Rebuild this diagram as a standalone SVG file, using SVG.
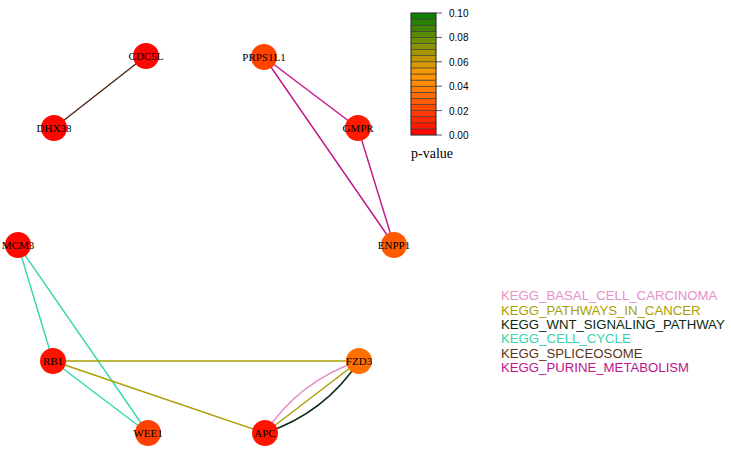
<svg xmlns="http://www.w3.org/2000/svg" width="731" height="449" viewBox="0 0 731 449">
<style>
.e{fill:none;stroke-width:1.4}
.n circle{stroke:none}
.n text{font-family:"Liberation Serif","Times New Roman",serif;font-size:11px;text-anchor:middle;fill:#000}
.band{stroke:#3a3a3a;stroke-width:0.6}
.tick{font-family:"Liberation Sans",Arial,sans-serif;font-size:10px;fill:#000}
.lg{font-family:"Liberation Sans",Arial,sans-serif;font-size:13.2px}
</style>
<rect width="731" height="449" fill="#fff"/>
<g id="connectors">
<line class="e" x1="146" y1="56" x2="54" y2="128" stroke="#4a2410"/>
<line class="e" x1="264" y1="57" x2="358" y2="128" stroke="#C0148C"/>
<line class="e" x1="264" y1="57" x2="394" y2="245" stroke="#C0148C"/>
<line class="e" x1="358" y1="128" x2="394" y2="245" stroke="#C0148C"/>
<line class="e" x1="18" y1="245" x2="53" y2="361" stroke="#33D6B0"/>
<line class="e" x1="18" y1="245" x2="148" y2="433" stroke="#33D6B0"/>
<line class="e" x1="53" y1="361" x2="148" y2="433" stroke="#33D6B0"/>
<line class="e" x1="53" y1="361" x2="359" y2="361" stroke="#A89F00"/>
<line class="e" x1="53" y1="361" x2="265" y2="433" stroke="#A89F00"/>
<path class="e" d="M265,433 Q299,381 359,361" stroke="#E68FC8"/>
<line class="e" x1="265" y1="433" x2="359" y2="361" stroke="#A89F00"/>
<path class="e" d="M265,433 Q325,413 359,361" stroke="#0A2A10"/>
</g>
<g id="node-CDC5L" class="n"><circle cx="146" cy="56" r="13" fill="#FF0400"/><text x="146" y="60">CDC5L</text></g>
<g id="node-DHX38" class="n"><circle cx="54" cy="128" r="13" fill="#FF0600"/><text x="54" y="132">DHX38</text></g>
<g id="node-PRPS1L1" class="n"><circle cx="264" cy="57" r="13" fill="#FF4400"/><text x="264" y="61">PRPS1L1</text></g>
<g id="node-GMPR" class="n"><circle cx="358" cy="128" r="13" fill="#FF1C00"/><text x="358" y="132">GMPR</text></g>
<g id="node-ENPP1" class="n"><circle cx="394" cy="245" r="13" fill="#FF5A00"/><text x="394" y="249">ENPP1</text></g>
<g id="node-MCM3" class="n"><circle cx="18" cy="245" r="13" fill="#FF0800"/><text x="18" y="249">MCM3</text></g>
<g id="node-RB1" class="n"><circle cx="53" cy="361" r="13" fill="#FF1200"/><text x="53" y="365">RB1</text></g>
<g id="node-WEE1" class="n"><circle cx="148" cy="433" r="13" fill="#FF4000"/><text x="148" y="437">WEE1</text></g>
<g id="node-APC" class="n"><circle cx="265" cy="433" r="13" fill="#FF1400"/><text x="265" y="437">APC</text></g>
<g id="node-FZD3" class="n"><circle cx="359" cy="361" r="13" fill="#FF7000"/><text x="359" y="365">FZD3</text></g>
<g id="colorbar">
<rect class="band" x="411" y="128.9" width="25" height="6.1" fill="#FF0800"/>
<rect class="band" x="411" y="122.8" width="25" height="6.1" fill="#FF1900"/>
<rect class="band" x="411" y="116.7" width="25" height="6.1" fill="#FF2900"/>
<rect class="band" x="411" y="110.6" width="25" height="6.1" fill="#FF3A00"/>
<rect class="band" x="411" y="104.5" width="25" height="6.1" fill="#FF4A00"/>
<rect class="band" x="411" y="98.4" width="25" height="6.1" fill="#FF5B00"/>
<rect class="band" x="411" y="92.3" width="25" height="6.1" fill="#FF6B00"/>
<rect class="band" x="411" y="86.2" width="25" height="6.1" fill="#FF7C00"/>
<rect class="band" x="411" y="80.1" width="25" height="6.1" fill="#FF8C00"/>
<rect class="band" x="411" y="74" width="25" height="6.1" fill="#FF9600"/>
<rect class="band" x="411" y="67.9" width="25" height="6.1" fill="#F29A00"/>
<rect class="band" x="411" y="61.8" width="25" height="6.1" fill="#D99A00"/>
<rect class="band" x="411" y="55.7" width="25" height="6.1" fill="#BF9800"/>
<rect class="band" x="411" y="49.6" width="25" height="6.1" fill="#A69600"/>
<rect class="band" x="411" y="43.5" width="25" height="6.1" fill="#8C9400"/>
<rect class="band" x="411" y="37.4" width="25" height="6.1" fill="#739000"/>
<rect class="band" x="411" y="31.3" width="25" height="6.1" fill="#598A00"/>
<rect class="band" x="411" y="25.2" width="25" height="6.1" fill="#408600"/>
<rect class="band" x="411" y="19.1" width="25" height="6.1" fill="#268200"/>
<rect class="band" x="411" y="13" width="25" height="6.1" fill="#0D8000"/>
<rect x="411" y="13" width="25" height="122" fill="none" stroke="#333" stroke-width="0.8"/>
<g stroke="#333" stroke-width="0.8">
<line x1="436" y1="13" x2="442" y2="13"/>
<line x1="436" y1="37.4" x2="442" y2="37.4"/>
<line x1="436" y1="61.8" x2="442" y2="61.8"/>
<line x1="436" y1="86.2" x2="442" y2="86.2"/>
<line x1="436" y1="110.6" x2="442" y2="110.6"/>
<line x1="436" y1="135" x2="442" y2="135"/>
</g>
<text class="tick" x="449" y="17">0.10</text>
<text class="tick" x="449" y="41.4">0.08</text>
<text class="tick" x="449" y="65.8">0.06</text>
<text class="tick" x="449" y="90.2">0.04</text>
<text class="tick" x="449" y="114.6">0.02</text>
<text class="tick" x="449" y="139">0.00</text>
<text x="411" y="158" font-family="Liberation Serif,Times New Roman,serif" font-size="14px" fill="#000">p-value</text>
</g>
<g id="legend">
<text class="lg" x="501" y="300" fill="#E68FC8">KEGG_BASAL_CELL_CARCINOMA</text>
<text class="lg" x="501" y="314.5" fill="#A89F00">KEGG_PATHWAYS_IN_CANCER</text>
<text class="lg" x="501" y="328.5" fill="#0A2A10">KEGG_WNT_SIGNALING_PATHWAY</text>
<text class="lg" x="501" y="343" fill="#33D6B0">KEGG_CELL_CYCLE</text>
<text class="lg" x="501" y="357.5" fill="#5C3317">KEGG_SPLICEOSOME</text>
<text class="lg" x="501" y="372" fill="#C0148C">KEGG_PURINE_METABOLISM</text>
</g>
</svg>
